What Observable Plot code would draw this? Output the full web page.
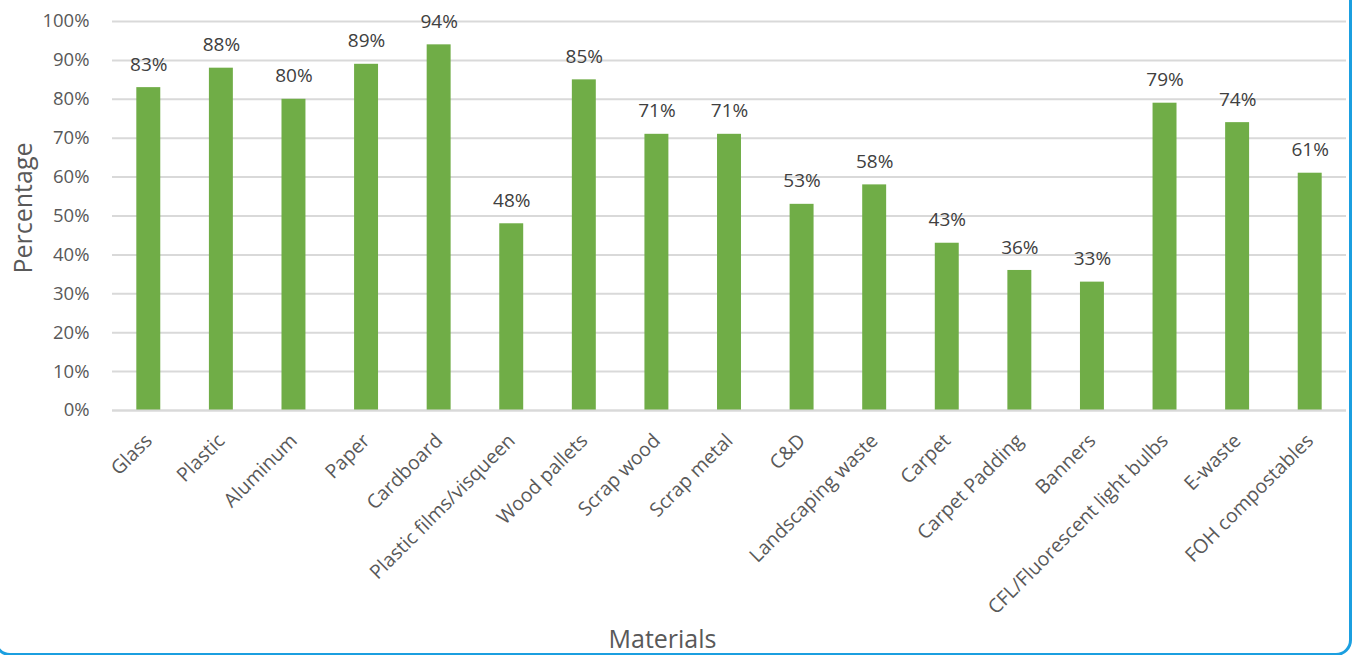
<!DOCTYPE html>
<html>
<head>
<meta charset="utf-8">
<script src="https://cdn.jsdelivr.net/npm/d3@7"></script>
<script src="https://cdn.jsdelivr.net/npm/@observablehq/plot@0.6"></script>
<style>
  html, body { margin: 0; padding: 0; background: #fff; overflow: hidden; }
  #wrap { position: relative; width: 1354px; height: 655px; }
  #frame { position: absolute; left: -6px; top: -30px; width: 1358px; height: 686px; box-sizing: border-box; border: 3px solid #1b9fe0; border-radius: 16px; pointer-events: none; }
  #chart { position: absolute; left: 0; top: 0; }
</style>
</head>
<body>
<div id="wrap"><div id="chart"></div><div id="frame"></div></div>
<script>
const materials = ["Glass", "Plastic", "Aluminum", "Paper", "Cardboard", "Plastic films/visqueen", "Wood pallets", "Scrap wood", "Scrap metal", "C&D", "Landscaping waste", "Carpet", "Carpet Padding", "Banners", "CFL/Fluorescent light bulbs", "E-waste", "FOH compostables"];
const percentages = [83, 88, 80, 89, 94, 48, 85, 71, 71, 53, 58, 43, 36, 33, 79, 74, 61];
const yTicks = [0, 10, 20, 30, 40, 50, 60, 70, 80, 90, 100];
const xTitle = "Materials";
const yTitle = "Percentage";

const data = materials.map((m, i) => ({material: m, value: percentages[i]}));

const chart = Plot.plot({
  width: 1354,
  height: 655,
  marginLeft: 112,
  marginRight: 8,
  marginTop: 21,
  marginBottom: 245,
  style: {fontFamily: "'Open Sans', sans-serif", color: "#595959", background: "transparent"},
  x: {domain: materials, paddingInner: 0.67, paddingOuter: 0.335, round: false},
  y: {domain: [0, 100]},
  marks: [
    Plot.gridY(yTicks, {stroke: "#d9d9d9", strokeOpacity: 1, strokeWidth: 2}),
    Plot.barY(data, {x: "material", y: "value", fill: "#70ad47"}),
    Plot.ruleY([0], {stroke: "#d9d9d9", strokeWidth: 2}),
    Plot.text(data, {x: "material", y: "value", text: d => d.value + "%", dy: -23, fill: "#404040", fontSize: 19, lineAnchor: "middle"}),
    Plot.axisY(yTicks, {tickFormat: d => d + "%", tickSize: 0, tickPadding: 23, fontSize: 18.5, fill: "#595959", label: null}),
    Plot.axisX({tickRotate: -45, tickSize: 0, tickPadding: 27, fontSize: 19.5, fill: "#595959", label: null}),
    Plot.text([xTitle], {frameAnchor: "bottom", dy: 229, dx: -67, fontSize: 25, lineAnchor: "middle", textAnchor: "middle", fill: "#595959"}),
    Plot.text([yTitle], {frameAnchor: "left", dx: -89, dy: -8, rotate: -90, fontSize: 25, lineAnchor: "middle", textAnchor: "middle", fill: "#595959"})
  ]
});
document.getElementById("chart").appendChild(chart);
</script>
</body>
</html>
